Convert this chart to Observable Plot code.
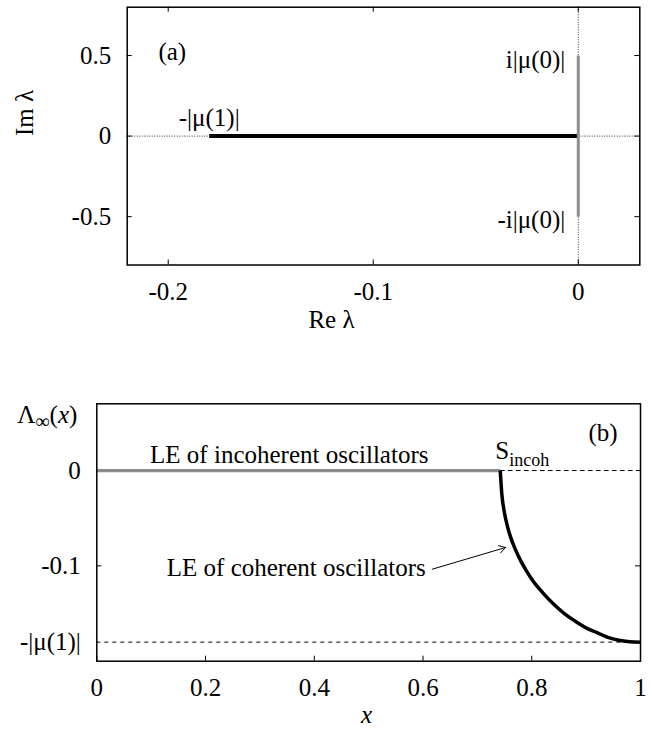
<!DOCTYPE html>
<html><head><meta charset="utf-8">
<script src="https://cdn.jsdelivr.net/npm/d3@7"></script>
<script src="https://cdn.jsdelivr.net/npm/@observablehq/plot@0.6"></script>
<style>
html,body{margin:0;padding:0;background:#fff}
svg{display:block}
svg, svg text, svg tspan{font-family:"Liberation Serif","Times New Roman",serif !important;}
</style>
</head><body><div id="a"></div><div id="b"></div>
<script>
// ---------- Panel (a): spectrum in the complex plane ----------
const aXTicks = [-0.2, -0.1, 0];
const aXTickLabels = ["-0.2", "-0.1", "0"];
const aYTicks = [0.5, 0, -0.5];
const aYTickLabels = ["0.5", "0", "-0.5"];
const realBranchRe = [-0.18, 0];
const realBranchIm = [0, 0];
const imagBranchRe = [0, 0];
const imagBranchIm = [-0.5, 0.5];
const aLabels = ["(a)", "-|μ(1)|"];
const aLabelRe = [-0.198, -0.18];
const aLabelIm = [0.52, 0.11];
const aEndLabels = ["i|μ(0)|", "-i|μ(0)|"];
const aEndLabelRe = [0, 0];
const aEndLabelIm = [0.47, -0.52];
const aAxisLabels = ["Re λ", "Im λ"];

// ---------- Panel (b): Lyapunov exponents ----------
const bXTicks = [0, 0.2, 0.4, 0.6, 0.8, 1];
const bXTickLabels = ["0", "0.2", "0.4", "0.6", "0.8", "1"];
const bYTicks = [0, -0.1, -0.18];
const bYTickLabels = ["0", "-0.1", "-|μ(1)|"];
const incohX = [0, 0.742];
const incohLE = [0, 0];
const cohX  = [0.742, 0.745, 0.75, 0.755, 0.76, 0.77, 0.78, 0.79, 0.80, 0.82, 0.84, 0.86, 0.88, 0.90, 0.92, 0.94, 0.96, 0.98, 1.0];
const cohLE = [0, -0.025, -0.045, -0.058, -0.068, -0.083, -0.095, -0.105, -0.114, -0.128, -0.140, -0.150, -0.158, -0.165, -0.170, -0.175, -0.178, -0.1795, -0.18];
const zeroRefX = [0.742, 1];
const mu1Level = [-0.18];
const bLabels = ["LE of incoherent oscillators", "(b)"];
const bLabelX = [0.354, 0.931];
const bLabelY = [0.016, 0.039];
const cohLabel = ["LE of coherent oscillators"];
const cohLabelX = [0.605];
const cohLabelY = [-0.102];
const sLabel = ["Sincoh"];
const sLabelX = [0.733];
const sLabelY = [0.021];
const arrowX1 = [0.617], arrowY1 = [-0.1035], arrowX2 = [0.752], arrowY2 = [-0.0807];
const bAxisLabels = ["x", "Λ∞(x)"];

const SERIF = "Liberation Serif";
const FS = 25;
const FONT = {fontFamily: SERIF, fontSize: FS + "px", background: "#fff", color: "#000"};
const TXT = {fill: "#000", fontFamily: SERIF, fontSize: FS};
const idx = d3.range;

// Panel (a) geometry
const WA = 653, HA = 345, mLA = 126.7, mRA = 13.7, mTA = 6.7, mBA = 80.5;
const fwA = WA - mLA - mRA, fhA = HA - mTA - mBA;

const plotA = Plot.plot({
  width: WA, height: HA,
  marginLeft: mLA, marginRight: mRA, marginTop: mTA, marginBottom: mBA,
  style: FONT,
  x: {domain: [-0.22, 0.03]},
  y: {domain: [-0.8, 0.8]},
  marks: [
    Plot.ruleY([0], {stroke: "#333", strokeWidth: 1, strokeDasharray: "1,1.5"}),
    Plot.ruleX([0], {stroke: "#333", strokeWidth: 1, strokeDasharray: "1,1.5"}),
    Plot.line(idx(realBranchRe.length), {x: i => realBranchRe[i], y: i => realBranchIm[i], stroke: "#000", strokeWidth: 4, strokeLinecap: "butt"}),
    Plot.line(idx(imagBranchRe.length), {x: i => imagBranchRe[i], y: i => imagBranchIm[i], stroke: "#8e8e8e", strokeWidth: 3, strokeLinecap: "butt"}),
    Plot.tickX(aXTicks, {x: d => d, insetTop: fhA - 5, stroke: "#000"}),
    Plot.tickX(aXTicks, {x: d => d, insetBottom: fhA - 5, stroke: "#000"}),
    Plot.tickY(aYTicks, {y: d => d, insetRight: fwA - 5, stroke: "#000"}),
    Plot.tickY(aYTicks, {y: d => d, insetLeft: fwA - 5, stroke: "#000"}),
    Plot.axisX({ticks: aXTicks, tickFormat: d => aXTickLabels[aXTicks.indexOf(d)], tickSize: 0, tickPadding: 17, label: null, ...TXT}),
    Plot.axisY({ticks: aYTicks, tickFormat: d => aYTickLabels[aYTicks.indexOf(d)], tickSize: 0, tickPadding: 16, label: null, ...TXT}),
    Plot.text(idx(aLabels.length), {x: i => aLabelRe[i], y: i => aLabelIm[i], text: i => aLabels[i], textAnchor: "middle", ...TXT}),
    Plot.text(idx(aEndLabels.length), {x: i => aEndLabelRe[i], y: i => aEndLabelIm[i], text: i => aEndLabels[i], textAnchor: "end", dx: -13, ...TXT}),
    Plot.text([aAxisLabels[0]], {frameAnchor: "bottom", dx: 331 - (mLA + fwA / 2), dy: 62.5, ...TXT}),
    Plot.text([aAxisLabels[1]], {frameAnchor: "left", dx: -(mLA - 24), rotate: -90, ...TXT}),
    Plot.frame({stroke: "#000", strokeWidth: 1.5})
  ]
});
document.getElementById("a").appendChild(plotA);

// Panel (b) geometry
const WB = 653, HB = 390, mLB = 96.3, mRB = 13, mTB = 58.3, mBB = 74.3;
const fwB = WB - mLB - mRB, fhB = HB - mTB - mBB;

const plotB = Plot.plot({
  width: WB, height: HB,
  marginLeft: mLB, marginRight: mRB, marginTop: mTB, marginBottom: mBB,
  style: FONT,
  x: {domain: [0, 1]},
  y: {domain: [-0.2, 0.07]},
  marks: [
    Plot.line(idx(zeroRefX.length), {x: i => zeroRefX[i], y: () => 0, stroke: "#000", strokeWidth: 1, strokeDasharray: "4,4"}),
    Plot.ruleY(mu1Level, {stroke: "#000", strokeWidth: 1, strokeDasharray: "4,4"}),
    Plot.line(idx(incohX.length), {x: i => incohX[i], y: i => incohLE[i], stroke: "#8c8c8c", strokeWidth: 3.3, strokeLinecap: "butt"}),
    Plot.line(idx(cohX.length), {x: i => cohX[i], y: i => cohLE[i], stroke: "#000", strokeWidth: 3.5, curve: "monotone-x", strokeLinecap: "butt"}),
    Plot.tickX(bXTicks, {x: d => d, insetTop: fhB - 5, stroke: "#000"}),
    Plot.tickY(bYTicks.slice(1, 2), {y: d => d, insetRight: fwB - 5, stroke: "#000"}),
    Plot.tickY(bYTicks.slice(1, 2), {y: d => d, insetLeft: fwB - 5, stroke: "#000"}),
    Plot.axisX({ticks: bXTicks, tickFormat: d => bXTickLabels[bXTicks.indexOf(d)], tickSize: 0, tickPadding: 17, label: null, ...TXT}),
    Plot.axisY({ticks: bYTicks, tickFormat: d => bYTickLabels[bYTicks.indexOf(d)], tickSize: 0, tickPadding: 16, label: null, ...TXT}),
    Plot.arrow(idx(arrowX1.length), {x1: i => arrowX1[i], y1: i => arrowY1[i], x2: i => arrowX2[i], y2: i => arrowY2[i], stroke: "#000", strokeWidth: 1, headLength: 11}),
    Plot.text(idx(bLabels.length), {x: i => bLabelX[i], y: i => bLabelY[i], text: i => bLabels[i], textAnchor: "middle", ...TXT}),
    Plot.text(idx(cohLabel.length), {x: i => cohLabelX[i], y: i => cohLabelY[i], text: i => cohLabel[i], textAnchor: "end", ...TXT}),
    Plot.text(idx(sLabel.length), {x: i => sLabelX[i], y: i => sLabelY[i], text: i => sLabel[i], textAnchor: "start", ...TXT}),
    Plot.text([bAxisLabels[0]], {frameAnchor: "bottom", dx: -2, dy: 61.3, fontStyle: "italic", ...TXT}),
    Plot.text([bAxisLabels[1]], {frameAnchor: "top-left", textAnchor: "start", dx: 16.7 - mLB, dy: 1.7, ...TXT}),
    Plot.frame({stroke: "#000", strokeWidth: 1.5})
  ]
});
document.getElementById("b").appendChild(plotB);

// Typeset subscripts/italics inside the real text elements
d3.select(plotB).selectAll("text").each(function () {
  const t = d3.select(this);
  const s = this.textContent;
  if (s === "Sincoh") {
    this.textContent = "";
    t.append("tspan").text("S");
    t.append("tspan").attr("dy", 7).attr("font-size", "18px").text("incoh");
  } else if (s === "Λ∞(x)") {
    this.textContent = "";
    t.append("tspan").text("Λ");
    t.append("tspan").attr("dy", 5).attr("font-size", "20px").text("∞");
    t.append("tspan").attr("dy", -5).text("(");
    t.append("tspan").attr("font-style", "italic").text("x");
    t.append("tspan").text(")");
  }
});
</script>
</body></html>
